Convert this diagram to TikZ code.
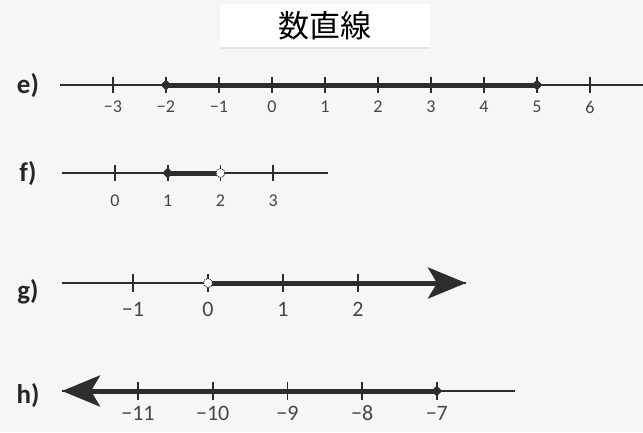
\documentclass[tikz,border=0pt]{standalone}
\usepackage{fontspec}
\setmainfont{Carlito}
\newfontfamily\cjk{Noto Sans CJK JP}
\usetikzlibrary{arrows.meta,shapes.geometric}
\definecolor{bgc}{RGB}{246,246,245}
\definecolor{linec}{RGB}{45,45,45}
\definecolor{numc}{RGB}{70,70,70}
\begin{document}
\begin{tikzpicture}[x=1pt,y=-1pt,
  axis/.style={draw=linec, line width=2.6pt},
  sol/.style={draw=linec, line width=5pt},
  tickmark/.style={draw=linec, line width=1.6pt},
  num/.style={text=numc, inner sep=0pt, anchor=center},
  lab/.style={font=\bfseries\fontsize{27}{27}\selectfont, text=black!85, inner sep=0pt},
  closed/.style={diamond, fill=linec, inner sep=0pt, minimum size=11pt},
  opendot/.style={circle, fill=white, draw=linec, densely dotted, line width=1pt, inner sep=0pt, minimum size=9pt},
  bigarrow/.style={-{Stealth[length=38pt,width=31pt,inset=9pt]}},
]
\fill[bgc] (0,0) rectangle (643,432);
\useasboundingbox (0,0) rectangle (643,432);

% title
\fill[black!10] (220,47) rectangle (430,49);
\node[fill=white, minimum width=210pt, minimum height=43pt, inner sep=0pt] (title) at (325,25.5)
  {\cjk\fontsize{31}{31}\selectfont 数直線};

% ---------- e)
\node[lab] (le) at (28,86) {e)};
\coordinate (eL) at (60,85);
\coordinate (eR) at (643,85);
\draw[axis] (eL) -- (eR);
\foreach \n/\t in {-3/−3,-2/−2,-1/−1,0/0,1/1,2/2,3/3,4/4,5/5,6/6}{
  \coordinate (e\n) at (272+53*\n,85);
  \draw[tickmark] ([yshift=8pt]e\n) -- ([yshift=-8pt]e\n);
  \node[num, font=\fontsize{18}{18}\selectfont] (en\n) at (272+53*\n,107) {\t};
}
\draw[sol] (e-2) -- (e5);
\node[closed] (ed1) at (e-2) {};
\node[closed] (ed2) at (e5) {};

% ---------- f)
\node[lab] (lf) at (28,174) {f)};
\coordinate (fL) at (62,173);
\coordinate (fR) at (328,173);
\draw[axis] (fL) -- (fR);
\foreach \n in {0,1,2,3}{
  \coordinate (f\n) at (115+52.7*\n,173);
  \draw[tickmark] ([yshift=8pt]f\n) -- ([yshift=-8pt]f\n);
  \node[num, font=\fontsize{18}{18}\selectfont] (fn\n) at (115+52.7*\n,201) {\n};
}
\draw[sol] (f1) -- (f2);
\node[closed] (fd1) at (f1) {};
\node[opendot] (fd2) at (f2) {};

% ---------- g)
\node[lab] (lg) at (28,292) {g)};
\coordinate (gL) at (62,283);
\coordinate (gR) at (466,283);
\draw[axis] (gL) -- (gR);
\foreach \n/\t in {-1/−1,0/0,1/1,2/2}{
  \coordinate (g\n) at (208+75*\n,283);
  \draw[tickmark] ([yshift=9pt]g\n) -- ([yshift=-9pt]g\n);
  \node[num, font=\fontsize{22}{22}\selectfont] (gn\n) at (208+75*\n,309) {\t};
}
\draw[sol, bigarrow] (g0) -- (gR);
\node[opendot] (gd) at (g0) {};

% ---------- h)
\node[lab] (lh) at (28,396) {h)};
\coordinate (hL) at (62,391);
\coordinate (hR) at (515,391);
\draw[axis] (hL) -- (hR);
\foreach \n/\t in {-11/−11,-10/−10,-9/−9,-8/−8,-7/−7}{
  \coordinate (h\n) at (138+74.7*\n+821.7,391);
  \draw[tickmark] ([yshift=9pt]h\n) -- ([yshift=-9pt]h\n);
  \node[num, font=\fontsize{22}{22}\selectfont] (hn\n) at (138+74.7*\n+821.7,413) {\t};
}
\draw[sol, bigarrow] (h-7) -- (hL);
\node[closed] (hd) at (h-7) {};
\end{tikzpicture}
\end{document}
